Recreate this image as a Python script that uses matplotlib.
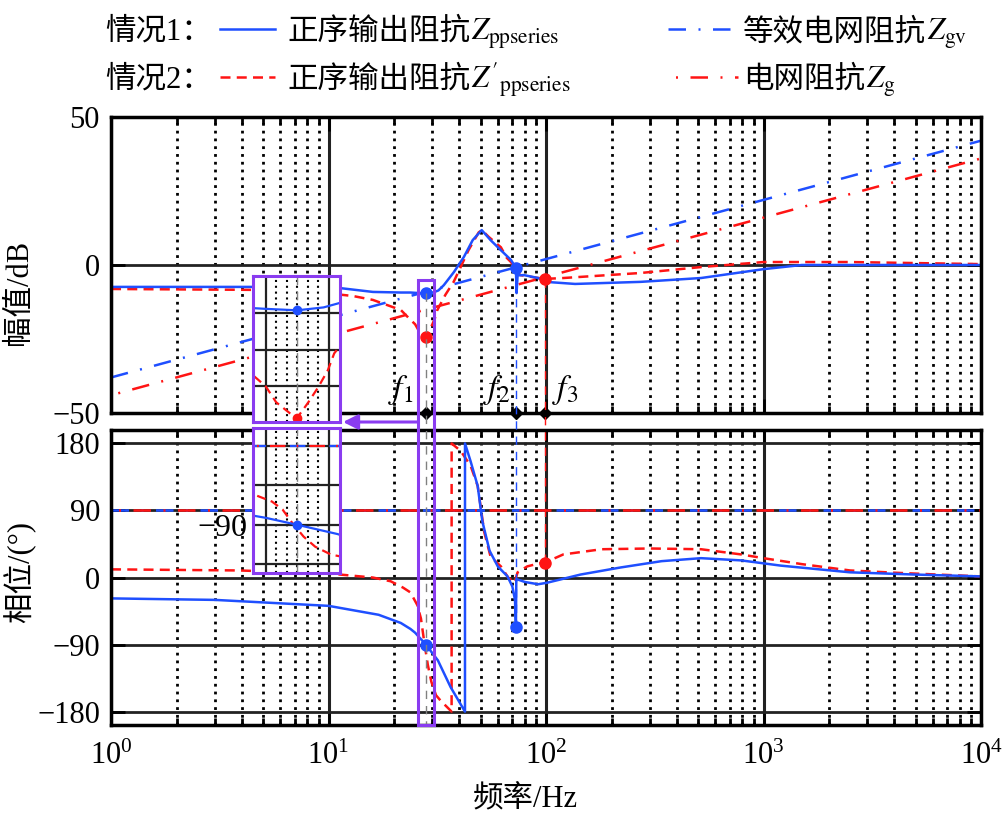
import matplotlib
matplotlib.use('Agg')
import matplotlib.pyplot as plt
from matplotlib.lines import Line2D
from matplotlib.patches import Rectangle, FancyArrowPatch
from matplotlib.ticker import LogLocator, NullFormatter

plt.rcParams['font.family'] = ['Liberation Serif', 'Noto Sans CJK SC']
plt.rcParams['mathtext.fontset'] = 'stix'
plt.rcParams['font.size'] = 22

BLUE = '#1f4fff'
RED = '#ff1414'
PURPLE = '#8a3cf0'

# grid impedances (straight lines on the log axis)
f_grid = [1, 1e4]
mag_zgv = [-38, 42]
mag_zg = [-44, 36]
ph_grid = [90, 90]

# case 1: Zppseries
f_pp1 = [1, 4.5, 11.3, 16, 21.5, 23.8, 25, 28, 30.5, 32, 33.9, 37.7, 41.9, 46, 50.6,
         55.6, 62, 69, 72.7, 73.2, 74, 79, 92, 100, 136, 272, 516, 1000, 1500, 10000]
mag_pp1 = [-7.4, -7.4, -7.8, -9.1, -9.3, -9.3, -9.4, -9.6, -9.2, -8.6, -6.8, -2.4, 2.7, 8.4, 11.8,
           8.4, 5, 1.7, -1, -9.5, -3.5, -3.4, -4.4, -5.7, -6.4, -5.7, -4.4, -1.4, 0, 0]
fph_pp1 = [1, 3, 10, 17, 21.5, 23.8, 25, 28, 31.8, 36.4, 42.4, 42.41, 45, 48.5, 51, 55, 60,
           66.5, 70, 72, 72.7, 73, 80, 92, 101, 144, 220, 340, 516, 790, 1200, 2500, 5000, 10000]
ph_pp1 = [-28, -30, -38, -50, -61, -69, -74, -90, -111, -147, -180, 180, 156, 123, 75, 36, 15,
          1.5, -12, -30, -66, -2, -6, -9, -7, 4, 13.5, 22, 26, 23, 16, 7, 4, 1.5]

# case 2: Z'ppseries
f_pp2 = [1, 4.5, 11.3, 13, 16, 21.5, 23.8, 25, 26, 27.3, 28, 29, 30, 30.9, 31.5, 34.5, 37.6,
         40.5, 44, 49, 50.7, 54.5, 62, 66, 69, 76, 85, 98.6, 120, 272, 516, 1000, 2500, 10000]
mag_pp2 = [-8.1, -8.4, -10, -10.5, -11.8, -15.2, -18.5, -20, -22.2, -23.7, -24.3, -22.3, -20.1,
           -17.8, -15.5, -10, -5.7, -0.7, 5, 11, 11.8, 9.5, 6, 2.4, 1, -3.4, -4, -4.7, -4.4,
           -2.7, -0.7, 1, 1, 0.3]
fph_pp2 = [1, 3.9, 10, 16, 19.3, 22, 23.8, 25.6, 26.6, 27.5, 28.6, 29.7, 31.2, 32.7, 36.8, 36.81,
           40.5, 45, 48.5, 52, 55.6, 62, 67, 71.6, 74, 82, 93, 98.6, 120, 180, 300, 516, 790,
           1000, 1500, 2500, 4000, 10000]
ph_pp2 = [11, 9.5, 5.4, 0, -5, -13.5, -20, -37, -55, -85, -117, -140, -158, -165, -180, 180,
          170, 150, 123, 61, 28, 15, 0, -7, 7, 15, 19, 20, 31, 38, 39, 38, 31, 26, 18, 9.5,
          6.5, 1.5]

# key frequencies and labels
f_key = [28, 72.7, 98.6]
key_labels = ['$f_1$', '$f_2$', '$f_3$']
label_dx = [-18, -14, 15]

dash_pp2 = (0, (4, 2.5))
dash_gv = (0, (7, 5, 0.8, 5))
dash_g = (9, (7, 5, 0.8, 5))
dash_con = (0, (6, 5))

fig = plt.figure(figsize=(10.03, 8.24), dpi=100)
ax1 = fig.add_axes([0.1107, 0.4988, 0.8674, 0.3592])
ax2 = fig.add_axes([0.1107, 0.1201, 0.8674, 0.3580])

for ax in (ax1, ax2):
    ax.set_xscale('log')
    ax.set_xlim(1, 1e4)
    ax.xaxis.set_minor_locator(LogLocator(base=10, subs=range(2, 10)))
    ax.xaxis.set_minor_formatter(NullFormatter())
    ax.grid(which='major', axis='x', color='#222222', lw=2.2, ls='-')
    ax.grid(which='minor', axis='x', color='black', lw=2, ls=(0, (1, 1.8)))
    ax.grid(which='major', axis='y', color='#222222', lw=2)
    ax.tick_params(which='both', direction='in', top=True, right=True, width=2)
    ax.tick_params(which='major', length=10, pad=8)
    ax.tick_params(which='minor', length=5)
    for s in ax.spines.values():
        s.set_linewidth(2.5)
    ax.set_axisbelow(True)

ax1.set_ylim(-50, 50)
ax1.set_yticks([-50, 0, 50])
ax1.tick_params(labelbottom=False)
ax2.set_ylim(-198, 198)
ax2.set_yticks([-180, -90, 0, 90, 180])
ax2.tick_params(axis='x', pad=12)

# magnitude
ax1.plot(f_grid, mag_zgv, color=BLUE, lw=1.8, ls=dash_gv)
ax1.plot(f_grid, mag_zg, color=RED, lw=1.8, ls=dash_g)
ax1.plot(f_pp2, mag_pp2, color=RED, lw=1.8, ls=dash_pp2)
ax1.plot(f_pp1, mag_pp1, color=BLUE, lw=1.8)

# phase
ax2.plot(f_grid, ph_grid, color=BLUE, lw=1.8, ls=dash_gv)
ax2.plot(f_grid, ph_grid, color=RED, lw=1.8, ls=dash_g)
ax2.plot(fph_pp2, ph_pp2, color=RED, lw=1.8, ls=dash_pp2)
ax2.plot(fph_pp1, ph_pp1, color=BLUE, lw=1.8)

# marked points
m1 = [mag_pp1[f_pp1.index(28)], mag_pp1[f_pp1.index(72.7)], mag_pp2[f_pp2.index(98.6)]]
p1 = [ph_pp1[fph_pp1.index(28)], ph_pp1[fph_pp1.index(72.7)], ph_pp2[fph_pp2.index(98.6)]]
cols = [BLUE, BLUE, RED]
ax1.plot(f_key[0], mag_pp2[f_pp2.index(28)], 'o', color=RED, ms=8, zorder=6)
for f, m, p, c in zip(f_key, m1, p1, cols):
    ax1.plot(f, m, 'o', color=c, ms=8, zorder=6)
    ax2.plot(f, p, 'o', color=c, ms=8, zorder=6)

for f, lab, dx in zip(f_key, key_labels, label_dx):
    ax1.plot(f, -50, 'D', color='black', ms=6, clip_on=False, zorder=7)
    ax1.annotate(lab, xy=(f, -50), xytext=(dx, 4), textcoords='offset points',
                 ha='center', va='bottom', fontsize=24)

fig.canvas.draw()
renderer = fig.canvas.get_renderer()
inv = fig.transFigure.inverted()

# vertical dashed connectors between the panels
con_cols = ['gray', BLUE, RED]
con_end = [-198, p1[1], p1[2]]
for f, m, e, c in zip(f_key, m1, con_end, con_cols):
    xa, ya_ = inv.transform(ax1.transData.transform((f, m)))
    xb, yb_ = inv.transform(ax2.transData.transform((f, e)))
    fig.add_artist(Line2D([xa, xb], [ya_, yb_], color=c, lw=1, ls=dash_con,
                          transform=fig.transFigure, zorder=3))

# highlight box around f1
x0, y1 = inv.transform(ax1.transData.transform((25.7, -5.1)))
x1, y0 = inv.transform(ax2.transData.transform((30.5, -198)))
fig.add_artist(Rectangle((x0, y0), x1 - x0, y1 - y0, transform=fig.transFigure,
                         fill=False, ec=PURPLE, lw=2.2, zorder=10))

# insets
in_left, in_w = 253 / 1003, 87 / 1003
axm = fig.add_axes([in_left, 1 - 422 / 824, in_w, 146 / 824])
axp = fig.add_axes([in_left, 1 - 573 / 824, in_w, 145 / 824])
for ax in (axm, axp):
    ax.set_xlim(23.8, 32.05)
    ax.set_xticks([25, 31])
    ax.set_xticks([26, 27, 28, 29, 30], minor=True)
    ax.tick_params(which='both', length=0, labelleft=False, labelbottom=False)
    ax.grid(which='major', color='#222222', lw=1.6)
    ax.grid(which='minor', axis='x', color='black', lw=1.5, ls=(0, (1, 1.8)))
    ax.set_axisbelow(True)
    for s in ax.spines.values():
        s.set_color(PURPLE)
        s.set_linewidth(2.2)
    ax.axvline(28, color='gray', lw=1, ls=dash_con)
axm.set_ylim(-24.9, -4.9)
axm.set_yticks([-20, -15, -10])
axp.set_ylim(-200, 131)
axp.set_yticks([-180, -90, 0, 90])

axm.plot(f_grid, mag_zgv, color=BLUE, lw=1.6, ls=dash_gv)
axm.plot(f_grid, mag_zg, color=RED, lw=1.6, ls=dash_g)
axm.plot(f_pp2, mag_pp2, color=RED, lw=1.6, ls=dash_pp2)
axm.plot(f_pp1, mag_pp1, color=BLUE, lw=1.6)
axm.plot(28, m1[0], 'o', color=BLUE, ms=6)
axm.plot(28, mag_pp2[f_pp2.index(28)], 'o', color=RED, ms=6)
axp.plot(f_grid, ph_grid, color=BLUE, lw=1.6, ls=dash_gv)
axp.plot(f_grid, ph_grid, color=RED, lw=1.6, ls=dash_g)
axp.plot(fph_pp2, ph_pp2, color=RED, lw=1.6, ls=dash_pp2)
axp.plot(fph_pp1, ph_pp1, color=BLUE, lw=1.6)
axp.plot(28, p1[0], 'o', color=BLUE, ms=6)
fig.text(247 / 1003, 1 - 528 / 824, '−90', ha='right', va='center', fontsize=23)

# arrow from highlight box to inset
ya = 1 - 422 / 824
fig.add_artist(FancyArrowPatch((x0, ya), (343 / 1003, ya), transform=fig.transFigure,
                               arrowstyle='-|>', mutation_scale=22, color=PURPLE, lw=2.2,
                               shrinkA=0, shrinkB=0, zorder=11))


def mixed_text(x, y, cjk, math):
    # CJK part in the text font, the symbol part in mathtext right after it
    t = fig.text(x, y, cjk, va='baseline')
    bb = t.get_window_extent(renderer)
    x2 = inv.transform((bb.x1 + 1, 0))[0]
    fig.text(x2, y, math, va='baseline')


# legend
r1, r2 = 1 - 40 / 824, 1 - 88 / 824
l1, l2 = 1 - 29 / 824, 1 - 77 / 824
fig.text(105 / 1003, r1, '情况1：', va='baseline')
fig.text(105 / 1003, r2, '情况2：', va='baseline')
fig.add_artist(Line2D([220 / 1003, 275 / 1003], [l1, l1], color=BLUE, lw=1.8,
                      transform=fig.transFigure))
fig.add_artist(Line2D([220 / 1003, 275 / 1003], [l2, l2], color=RED, lw=1.8, ls=dash_pp2,
                      transform=fig.transFigure))
fig.add_artist(Line2D([668 / 1003, 738 / 1003], [l1, l1], color=BLUE, lw=1.8, ls=dash_gv,
                      transform=fig.transFigure))
fig.add_artist(Line2D([668 / 1003, 738 / 1003], [l2, l2], color=RED, lw=1.8, ls=dash_g,
                      transform=fig.transFigure))
mixed_text(287 / 1003, r1, '正序输出阻抗', r'$Z_{\mathrm{ppseries}}$')
mixed_text(287 / 1003, r2, '正序输出阻抗', r"$Z'_{\mathrm{ppseries}}$")
mixed_text(743 / 1003, r1, '等效电网阻抗', r'$Z_{\mathrm{gv}}$')
mixed_text(743 / 1003, r2, '电网阻抗', r'$Z_{\mathrm{g}}$')

fig.text(20 / 1003, 1 - 292 / 824, '幅值/dB', rotation=90, ha='center', va='center')
fig.text(20 / 1003, 1 - 572 / 824, '相位/(°)', rotation=90, ha='center', va='center')
fig.text(525 / 1003, 1 - 800 / 824, '频率/Hz', ha='center', va='center')

fig.savefig('out.png', dpi=100)
